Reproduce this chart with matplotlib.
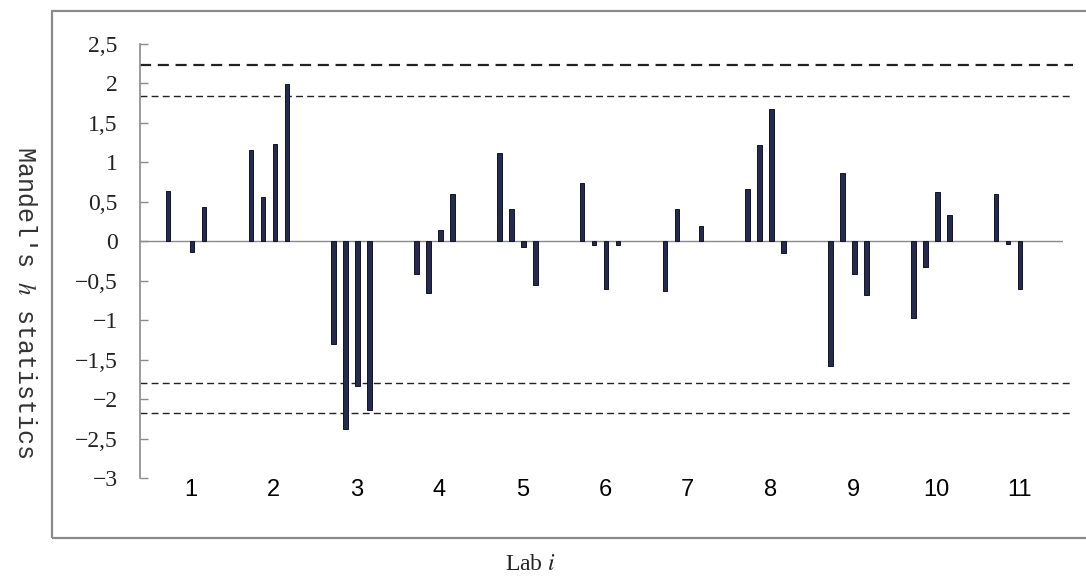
import matplotlib
matplotlib.use("Agg")
import matplotlib.pyplot as plt
from matplotlib.patches import Rectangle
import numpy as np

labs = ["1", "2", "3", "4", "5", "6", "7", "8", "9", "10", "11"]
# Mandel's h values, 4 per lab
series1 = [0.64, 1.16, -1.30, -0.42, 1.12, 0.74, -0.63, 0.66, -1.58, -0.97, 0.60]
series2 = [0.00, 0.56, -2.38, -0.65, 0.41, -0.05, 0.41, 1.22, 0.86, -0.33, -0.03]
series3 = [-0.13, 1.23, -1.84, 0.14, -0.07, -0.60, 0.00, 1.68, -0.41, 0.62, -0.61]
series4 = [0.44, 1.99, -2.14, 0.60, -0.56, -0.05, 0.19, -0.15, -0.68, 0.33, 0.00]
crit_lines = [2.24, 1.84, -1.80, -2.18]
crit_widths = [1.6, 1.0, 1.0, 1.0]
yticks = [2.5, 2, 1.5, 1, 0.5, 0, -0.5, -1, -1.5, -2, -2.5, -3]

plt.rcParams['mathtext.fontset'] = 'stix'

W, H = 1086, 578
fig = plt.figure(figsize=(W / 100, H / 100), dpi=100)

# outer frame
fig.patches.append(Rectangle((52 / W, 1 - 538 / H), 1.2, (538 - 11) / H,
                             transform=fig.transFigure, fill=False,
                             edgecolor='#8a8a8a', lw=1.6, zorder=0))

ax = fig.add_axes([140 / W, 1 - 478 / H, 923 / W, 434 / H])
ax.set_facecolor('none')

x = np.arange(1, len(labs) + 1)
step = 0.145
bw = 0.055
for i, s in enumerate([series1, series2, series3, series4]):
    s = np.asarray(s)
    ax.bar(x + (i - 1.5) * step, s, width=bw, color='#262a4e',
           edgecolor=['#111327' if v != 0 else 'none' for v in s],
           lw=0.7, zorder=3)

ax.axhline(0, color='#8a8a8a', lw=1.0, zorder=2)
for v, lw in zip(crit_lines, crit_widths):
    ax.plot([0, 1.0108], [v, v], transform=ax.get_yaxis_transform(),
            color='#222222', lw=lw, ls=(0, (5, 3)), clip_on=False, zorder=2)

ax.set_xlim(0.4444, 11.59)
ax.set_ylim(-3, 2.5)

for sp in ['top', 'right', 'bottom']:
    ax.spines[sp].set_visible(False)
ax.spines['left'].set_color('#8a8a8a')
ax.spines['left'].set_linewidth(1.2)

ax.set_yticks(yticks)
ax.set_yticklabels([("%g" % t).replace('.', ',').replace('-', '\u2212') for t in yticks],
                   family='Liberation Serif', fontsize=17, color='#222222')
ax.tick_params(axis='y', direction='in', length=6, width=1, color='#8a8a8a', pad=16)

ax.set_xticks(x + 0.06)
ax.set_xticklabels(labs, family='Liberation Sans', fontsize=17)
ax.tick_params(axis='x', length=0, pad=1)

fig.text(25 / W, 1 - 302 / H, "Mandel's $h$ statistics", rotation=270,
         ha='center', va='center', family='Liberation Mono', fontsize=18,
         color='#333333')
fig.text(530 / W, 1 - 565 / H, "Lab $i$", ha='center', va='center',
         family='Liberation Serif', fontsize=17, color='#222222')

fig.savefig('out.png', dpi=100)
